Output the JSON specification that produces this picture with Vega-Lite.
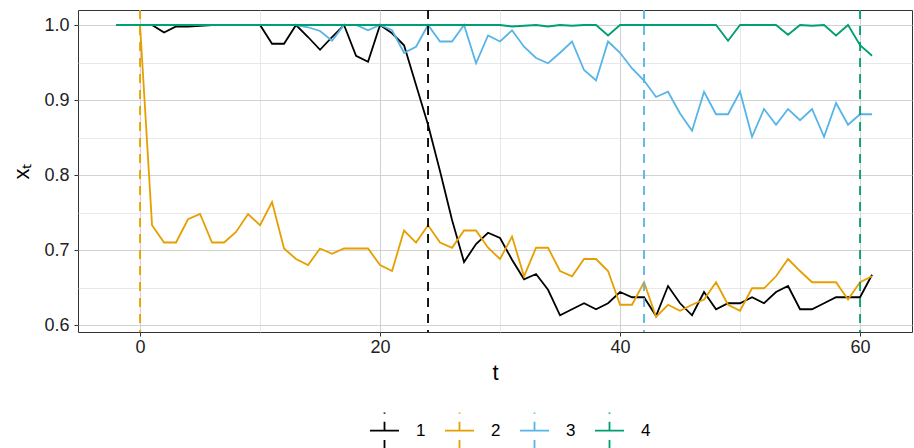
{
"$schema": "https://vega.github.io/schema/vega-lite/v6.json",
"width": 834, "height": 322,
"autosize": {"type": "none"},
"padding": {"left": 78, "top": 10, "right": 2, "bottom": 116},
"background": "white",
"config": {
  "font": "Liberation Sans",
  "view": {"stroke": "#333333", "strokeWidth": 1},
  "axis": {"domain": false, "labelFontSize": 18, "labelColor": "#222222", "titleFontSize": 22, "titleFontWeight": "normal", "titleColor": "#000000", "tickSize": 4, "tickWidth": 1}
},
"datasets": {
"lines": [
{"s":"1","t":-2,"x":1},{"s":"1","t":-1,"x":1},{"s":"1","t":0,"x":1},{"s":"1","t":1,"x":1},{"s":"1","t":2,"x":0.99},{"s":"1","t":3,"x":0.998},{"s":"1","t":4,"x":0.998},{"s":"1","t":5,"x":0.999},{"s":"1","t":6,"x":1},{"s":"1","t":7,"x":1},{"s":"1","t":8,"x":1},{"s":"1","t":9,"x":1},{"s":"1","t":10,"x":1},{"s":"1","t":11,"x":0.975},{"s":"1","t":12,"x":0.975},{"s":"1","t":13,"x":1},{"s":"1","t":14,"x":0.984},{"s":"1","t":15,"x":0.967},{"s":"1","t":16,"x":0.984},{"s":"1","t":17,"x":1},{"s":"1","t":18,"x":0.959},{"s":"1","t":19,"x":0.951},{"s":"1","t":20,"x":1},{"s":"1","t":21,"x":0.989},{"s":"1","t":22,"x":0.973},{"s":"1","t":23,"x":0.92},{"s":"1","t":24,"x":0.867},{"s":"1","t":25,"x":0.805},{"s":"1","t":26,"x":0.74},{"s":"1","t":27,"x":0.684},{"s":"1","t":28,"x":0.708},{"s":"1","t":29,"x":0.723},{"s":"1","t":30,"x":0.716},{"s":"1","t":31,"x":0.687},{"s":"1","t":32,"x":0.661},{"s":"1","t":33,"x":0.668},{"s":"1","t":34,"x":0.647},{"s":"1","t":35,"x":0.613},{"s":"1","t":36,"x":0.621},{"s":"1","t":37,"x":0.629},{"s":"1","t":38,"x":0.621},{"s":"1","t":39,"x":0.629},{"s":"1","t":40,"x":0.644},{"s":"1","t":41,"x":0.637},{"s":"1","t":42,"x":0.637},{"s":"1","t":43,"x":0.612},{"s":"1","t":44,"x":0.652},{"s":"1","t":45,"x":0.629},{"s":"1","t":46,"x":0.613},{"s":"1","t":47,"x":0.644},{"s":"1","t":48,"x":0.621},{"s":"1","t":49,"x":0.629},{"s":"1","t":50,"x":0.629},{"s":"1","t":51,"x":0.637},{"s":"1","t":52,"x":0.629},{"s":"1","t":53,"x":0.644},{"s":"1","t":54,"x":0.652},{"s":"1","t":55,"x":0.621},{"s":"1","t":56,"x":0.621},{"s":"1","t":57,"x":0.629},{"s":"1","t":58,"x":0.637},{"s":"1","t":59,"x":0.637},{"s":"1","t":60,"x":0.637},{"s":"1","t":61,"x":0.667},
{"s":"2","t":-2,"x":1},{"s":"2","t":-1,"x":1},{"s":"2","t":0,"x":1},{"s":"2","t":1,"x":0.733},{"s":"2","t":2,"x":0.71},{"s":"2","t":3,"x":0.71},{"s":"2","t":4,"x":0.741},{"s":"2","t":5,"x":0.748},{"s":"2","t":6,"x":0.71},{"s":"2","t":7,"x":0.71},{"s":"2","t":8,"x":0.724},{"s":"2","t":9,"x":0.748},{"s":"2","t":10,"x":0.733},{"s":"2","t":11,"x":0.764},{"s":"2","t":12,"x":0.702},{"s":"2","t":13,"x":0.688},{"s":"2","t":14,"x":0.68},{"s":"2","t":15,"x":0.702},{"s":"2","t":16,"x":0.695},{"s":"2","t":17,"x":0.702},{"s":"2","t":18,"x":0.702},{"s":"2","t":19,"x":0.702},{"s":"2","t":20,"x":0.68},{"s":"2","t":21,"x":0.672},{"s":"2","t":22,"x":0.726},{"s":"2","t":23,"x":0.71},{"s":"2","t":24,"x":0.733},{"s":"2","t":25,"x":0.71},{"s":"2","t":26,"x":0.703},{"s":"2","t":27,"x":0.726},{"s":"2","t":28,"x":0.726},{"s":"2","t":29,"x":0.703},{"s":"2","t":30,"x":0.688},{"s":"2","t":31,"x":0.718},{"s":"2","t":32,"x":0.665},{"s":"2","t":33,"x":0.703},{"s":"2","t":34,"x":0.703},{"s":"2","t":35,"x":0.672},{"s":"2","t":36,"x":0.665},{"s":"2","t":37,"x":0.688},{"s":"2","t":38,"x":0.688},{"s":"2","t":39,"x":0.672},{"s":"2","t":40,"x":0.627},{"s":"2","t":41,"x":0.627},{"s":"2","t":42,"x":0.657},{"s":"2","t":43,"x":0.611},{"s":"2","t":44,"x":0.627},{"s":"2","t":45,"x":0.619},{"s":"2","t":46,"x":0.627},{"s":"2","t":47,"x":0.634},{"s":"2","t":48,"x":0.657},{"s":"2","t":49,"x":0.627},{"s":"2","t":50,"x":0.619},{"s":"2","t":51,"x":0.649},{"s":"2","t":52,"x":0.649},{"s":"2","t":53,"x":0.665},{"s":"2","t":54,"x":0.688},{"s":"2","t":55,"x":0.672},{"s":"2","t":56,"x":0.657},{"s":"2","t":57,"x":0.657},{"s":"2","t":58,"x":0.657},{"s":"2","t":59,"x":0.634},{"s":"2","t":60,"x":0.657},{"s":"2","t":61,"x":0.665},
{"s":"3","t":-2,"x":1},{"s":"3","t":-1,"x":1},{"s":"3","t":0,"x":1},{"s":"3","t":1,"x":1},{"s":"3","t":2,"x":1},{"s":"3","t":3,"x":1},{"s":"3","t":4,"x":1},{"s":"3","t":5,"x":1},{"s":"3","t":6,"x":1},{"s":"3","t":7,"x":1},{"s":"3","t":8,"x":1},{"s":"3","t":9,"x":1},{"s":"3","t":10,"x":1},{"s":"3","t":11,"x":1},{"s":"3","t":12,"x":1},{"s":"3","t":13,"x":1},{"s":"3","t":14,"x":0.997},{"s":"3","t":15,"x":0.992},{"s":"3","t":16,"x":0.979},{"s":"3","t":17,"x":1},{"s":"3","t":18,"x":1},{"s":"3","t":19,"x":0.993},{"s":"3","t":20,"x":1},{"s":"3","t":21,"x":0.993},{"s":"3","t":22,"x":0.963},{"s":"3","t":23,"x":0.971},{"s":"3","t":24,"x":1},{"s":"3","t":25,"x":0.978},{"s":"3","t":26,"x":0.978},{"s":"3","t":27,"x":1},{"s":"3","t":28,"x":0.949},{"s":"3","t":29,"x":0.986},{"s":"3","t":30,"x":0.978},{"s":"3","t":31,"x":0.993},{"s":"3","t":32,"x":0.971},{"s":"3","t":33,"x":0.956},{"s":"3","t":34,"x":0.949},{"s":"3","t":35,"x":0.963},{"s":"3","t":36,"x":0.978},{"s":"3","t":37,"x":0.94},{"s":"3","t":38,"x":0.926},{"s":"3","t":39,"x":0.978},{"s":"3","t":40,"x":0.963},{"s":"3","t":41,"x":0.942},{"s":"3","t":42,"x":0.926},{"s":"3","t":43,"x":0.904},{"s":"3","t":44,"x":0.911},{"s":"3","t":45,"x":0.882},{"s":"3","t":46,"x":0.859},{"s":"3","t":47,"x":0.911},{"s":"3","t":48,"x":0.881},{"s":"3","t":49,"x":0.881},{"s":"3","t":50,"x":0.911},{"s":"3","t":51,"x":0.851},{"s":"3","t":52,"x":0.888},{"s":"3","t":53,"x":0.867},{"s":"3","t":54,"x":0.888},{"s":"3","t":55,"x":0.873},{"s":"3","t":56,"x":0.888},{"s":"3","t":57,"x":0.851},{"s":"3","t":58,"x":0.896},{"s":"3","t":59,"x":0.867},{"s":"3","t":60,"x":0.881},{"s":"3","t":61,"x":0.881},
{"s":"4","t":-2,"x":1},{"s":"4","t":-1,"x":1},{"s":"4","t":0,"x":1},{"s":"4","t":1,"x":1},{"s":"4","t":2,"x":1},{"s":"4","t":3,"x":1},{"s":"4","t":4,"x":1},{"s":"4","t":5,"x":1},{"s":"4","t":6,"x":1},{"s":"4","t":7,"x":1},{"s":"4","t":8,"x":1},{"s":"4","t":9,"x":1},{"s":"4","t":10,"x":1},{"s":"4","t":11,"x":1},{"s":"4","t":12,"x":1},{"s":"4","t":13,"x":1},{"s":"4","t":14,"x":1},{"s":"4","t":15,"x":1},{"s":"4","t":16,"x":1},{"s":"4","t":17,"x":1},{"s":"4","t":18,"x":1},{"s":"4","t":19,"x":1},{"s":"4","t":20,"x":1},{"s":"4","t":21,"x":1},{"s":"4","t":22,"x":1},{"s":"4","t":23,"x":1},{"s":"4","t":24,"x":1},{"s":"4","t":25,"x":1},{"s":"4","t":26,"x":1},{"s":"4","t":27,"x":1},{"s":"4","t":28,"x":1},{"s":"4","t":29,"x":1},{"s":"4","t":30,"x":1},{"s":"4","t":31,"x":0.998},{"s":"4","t":32,"x":0.999},{"s":"4","t":33,"x":1},{"s":"4","t":34,"x":0.998},{"s":"4","t":35,"x":1},{"s":"4","t":36,"x":0.999},{"s":"4","t":37,"x":1},{"s":"4","t":38,"x":1},{"s":"4","t":39,"x":0.986},{"s":"4","t":40,"x":1},{"s":"4","t":41,"x":1},{"s":"4","t":42,"x":1},{"s":"4","t":43,"x":1},{"s":"4","t":44,"x":1},{"s":"4","t":45,"x":1},{"s":"4","t":46,"x":1},{"s":"4","t":47,"x":1},{"s":"4","t":48,"x":1},{"s":"4","t":49,"x":0.979},{"s":"4","t":50,"x":1},{"s":"4","t":51,"x":1},{"s":"4","t":52,"x":1},{"s":"4","t":53,"x":1},{"s":"4","t":54,"x":0.987},{"s":"4","t":55,"x":1},{"s":"4","t":56,"x":0.999},{"s":"4","t":57,"x":1},{"s":"4","t":58,"x":0.986},{"s":"4","t":59,"x":1},{"s":"4","t":60,"x":0.973},{"s":"4","t":61,"x":0.959}
],
"vlines": [{"s":"1","t":24},{"s":"2","t":0},{"s":"3","t":42},{"s":"4","t":60}]
},
"layer": [
{
  "data": {"name": "lines"},
  "mark": {"type": "line", "strokeWidth": 1.8},
  "encoding": {
    "x": {"field": "t", "type": "quantitative",
      "scale": {"domain": [-5.17, 64.33], "nice": false, "zero": false},
      "axis": {"title": "t", "values": [0, 10, 20, 30, 40, 50, 60],
        "labelExpr": "datum.value % 20 == 0 ? datum.label : ''",
        "tickColor": {"condition": {"test": "datum.value % 20 == 0", "value": "#333333"}, "value": "transparent"},
        "gridColor": {"condition": {"test": "datum.value % 20 == 0", "value": "#d2d2d2"}, "value": "#e2e2e2"},
        "gridWidth": {"condition": {"test": "datum.value % 20 == 0", "value": 1.1}, "value": 0.8},
        "labelPadding": 2, "titlePadding": 6}},
    "y": {"field": "x", "type": "quantitative",
      "scale": {"domain": [0.5907, 1.02], "nice": false, "zero": false},
      "axis": {"title": "xₜ", "values": [0.6, 0.65, 0.7, 0.75, 0.8, 0.85, 0.9, 0.95, 1.0], "format": ".1f",
        "labelExpr": "round(datum.value*100) % 10 == 0 ? datum.label : ''",
        "tickColor": {"condition": {"test": "round(datum.value*100) % 10 == 0", "value": "#333333"}, "value": "transparent"},
        "gridColor": {"condition": {"test": "round(datum.value*100) % 10 == 0", "value": "#d2d2d2"}, "value": "#e2e2e2"},
        "gridWidth": {"condition": {"test": "round(datum.value*100) % 10 == 0", "value": 1.1}, "value": 0.8},
        "labelPadding": 5, "titlePadding": 10}},
    "color": {"field": "s", "type": "nominal",
      "scale": {"domain": ["1", "2", "3", "4"], "range": ["#000000", "#E69F00", "#56B4E9", "#009E73"]},
      "legend": {"title": null, "orient": "none", "legendX": 291, "legendY": 405, "direction": "horizontal",
        "symbolType": "M-1,0L1,0M0,-1.25L0,-1.15M0,-0.6L0,0M0,0.65L0,1.3",
        "symbolSize": 841, "symbolStrokeWidth": 1.8, "labelFontSize": 17, "labelColor": "#000000",
        "labelOffset": 16, "columnPadding": 15, "padding": 0}}
  }
},
{
  "data": {"name": "vlines"},
  "mark": {"type": "rule", "strokeWidth": 1.8, "strokeDash": [9, 7]},
  "encoding": {
    "x": {"field": "t", "type": "quantitative"},
    "color": {"field": "s", "type": "nominal"}
  }
}
]
}
